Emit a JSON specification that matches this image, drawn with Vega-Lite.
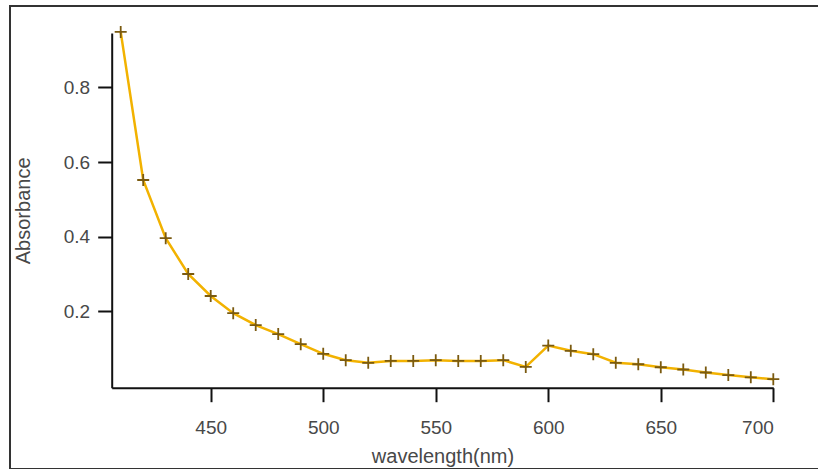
{
  "$schema": "https://vega.github.io/schema/vega-lite/v6.json",
  "width": 810,
  "height": 463,
  "padding": {"left": 10, "top": 6, "right": 0, "bottom": 0},
  "autosize": {"type": "none"},
  "background": "white",
  "config": {
    "view": {"stroke": "#333333", "strokeWidth": 2},
    "font": "Liberation Sans",
    "axis": {
      "domainColor": "#111111",
      "domainWidth": 2,
      "tickColor": "#111111",
      "tickWidth": 2,
      "tickSize": 14,
      "grid": false,
      "labelFont": "Liberation Sans",
      "labelFontSize": 19,
      "labelColor": "#484848",
      "titleFont": "Liberation Sans",
      "titleFontSize": 20,
      "titleFontWeight": "normal",
      "titleColor": "#484848"
    }
  },
  "data": {
    "values": [
      {"wavelength": 410, "absorbance": 0.949},
      {"wavelength": 420, "absorbance": 0.552},
      {"wavelength": 430, "absorbance": 0.396},
      {"wavelength": 440, "absorbance": 0.300},
      {"wavelength": 450, "absorbance": 0.241},
      {"wavelength": 460, "absorbance": 0.195},
      {"wavelength": 470, "absorbance": 0.163},
      {"wavelength": 480, "absorbance": 0.139},
      {"wavelength": 490, "absorbance": 0.112},
      {"wavelength": 500, "absorbance": 0.086},
      {"wavelength": 510, "absorbance": 0.069},
      {"wavelength": 520, "absorbance": 0.062},
      {"wavelength": 530, "absorbance": 0.067},
      {"wavelength": 540, "absorbance": 0.067},
      {"wavelength": 550, "absorbance": 0.069},
      {"wavelength": 560, "absorbance": 0.067},
      {"wavelength": 570, "absorbance": 0.067},
      {"wavelength": 580, "absorbance": 0.069},
      {"wavelength": 590, "absorbance": 0.051},
      {"wavelength": 600, "absorbance": 0.108},
      {"wavelength": 610, "absorbance": 0.094},
      {"wavelength": 620, "absorbance": 0.085},
      {"wavelength": 630, "absorbance": 0.062},
      {"wavelength": 640, "absorbance": 0.058},
      {"wavelength": 650, "absorbance": 0.050},
      {"wavelength": 660, "absorbance": 0.044},
      {"wavelength": 670, "absorbance": 0.036},
      {"wavelength": 680, "absorbance": 0.029},
      {"wavelength": 690, "absorbance": 0.023},
      {"wavelength": 700, "absorbance": 0.018}
    ]
  },
  "encoding": {
    "x": {
      "field": "wavelength",
      "type": "quantitative",
      "scale": {"domain": [406, 700], "range": [101.7, 763.3], "nice": false, "zero": false},
      "axis": {
        "title": "wavelength(nm)",
        "values": [450, 500, 550, 600, 650, 700],
        "offset": -81.3,
        "labelPadding": 17,
        "titlePadding": 9
      }
    },
    "y": {
      "field": "absorbance",
      "type": "quantitative",
      "scale": {"domain": [-0.0048, 0.946], "range": [381.7, 27], "nice": false, "zero": false},
      "axis": {
        "title": "Absorbance",
        "values": [0.2, 0.4, 0.6, 0.8],
        "format": ".1f",
        "offset": -101.7,
        "labelPadding": 8,
        "titlePadding": 30
      }
    }
  },
  "layer": [
    {
      "mark": {"type": "line", "color": "#F2B200", "strokeWidth": 2.5, "clip": false}
    },
    {
      "mark": {
        "type": "point",
        "shape": "M-1,0L1,0M0,-1L0,1",
        "size": 144,
        "stroke": "#7A5A10",
        "strokeWidth": 1.8,
        "filled": false,
        "opacity": 1,
        "clip": false
      }
    }
  ]
}
